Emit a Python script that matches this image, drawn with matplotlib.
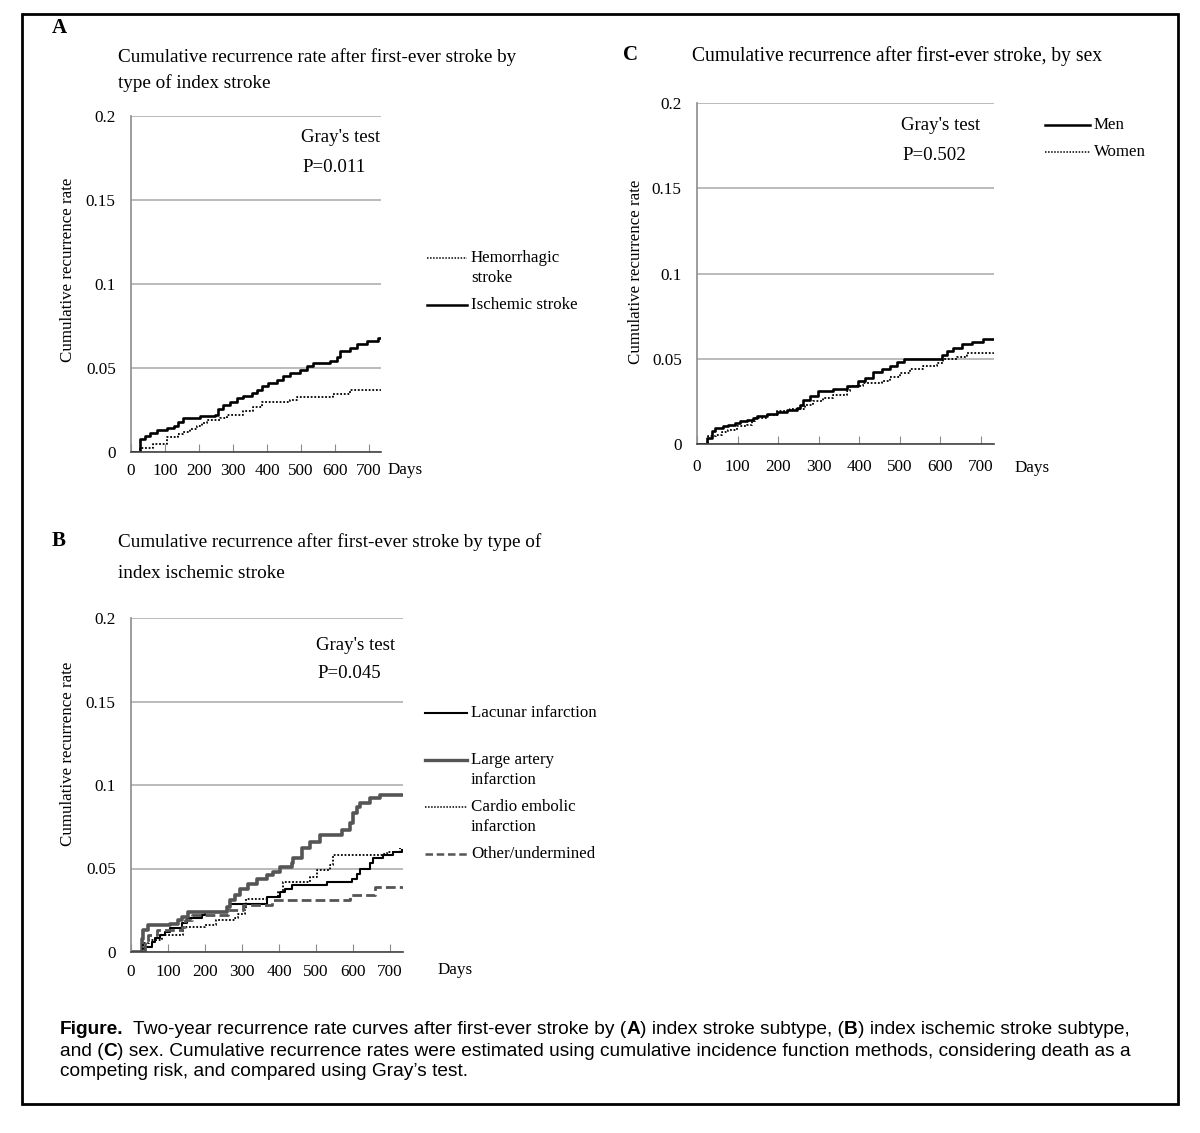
import matplotlib
matplotlib.use('Agg')
import matplotlib.pyplot as plt
from matplotlib.lines import Line2D
from matplotlib.patches import Rectangle

plt.rcParams['font.family'] = ['Liberation Serif', 'DejaVu Serif']

W, H = 1200, 1133

# region - data (days, cumulative recurrence rate)
# A: by type of index stroke
isch_days = [0, 25, 41, 56, 75, 105, 125, 139, 154, 193, 203, 247, 257, 271, 291, 311, 330, 355, 370,
             384, 404, 428, 448, 468, 497, 516, 536, 585, 605, 615, 644, 663, 693, 725, 735]
isch_rate = [0, 0.0075, 0.0095, 0.0115, 0.0128, 0.014, 0.0154, 0.018, 0.020, 0.0204, 0.0217, 0.022,
             0.0253, 0.028, 0.030, 0.032, 0.0336, 0.035, 0.037, 0.039, 0.041, 0.043, 0.045, 0.047,
             0.049, 0.051, 0.053, 0.0543, 0.0563, 0.060, 0.062, 0.064, 0.066, 0.0676, 0.068]
hem_days = [0, 25, 66, 105, 139, 154, 173, 193, 208, 222, 262, 281, 330, 360, 384, 468, 487, 595,
            644, 735]
hem_rate = [0, 0.0026, 0.0045, 0.009, 0.0105, 0.012, 0.0138, 0.0154, 0.0174, 0.0188, 0.020, 0.0223,
            0.0243, 0.0267, 0.0296, 0.031, 0.033, 0.0346, 0.0372, 0.0377]

# B: by type of index ischemic stroke
lac_days = [0, 38, 56, 65, 78, 92, 105, 137, 150, 191, 200, 259, 268, 367, 403, 416, 434, 529, 596,
            610, 619, 646, 655, 682, 709, 731]
lac_rate = [0, 0.0032, 0.0062, 0.0082, 0.0102, 0.0122, 0.0142, 0.0172, 0.0202, 0.022, 0.024, 0.027,
            0.029, 0.033, 0.036, 0.038, 0.040, 0.042, 0.044, 0.047, 0.050, 0.053, 0.056, 0.058,
            0.060, 0.061]
la_days = [0, 29, 33, 45, 105, 128, 137, 155, 259, 268, 281, 295, 317, 340, 367, 385, 403, 434, 439,
           461, 484, 511, 570, 592, 601, 610, 619, 646, 673, 735]
la_rate = [0, 0.008, 0.013, 0.016, 0.017, 0.019, 0.021, 0.024, 0.027, 0.031, 0.034, 0.038, 0.041,
           0.044, 0.046, 0.048, 0.051, 0.053, 0.056, 0.062, 0.066, 0.070, 0.073, 0.077, 0.083,
           0.087, 0.089, 0.092, 0.094, 0.094]
ce_days = [0, 33, 48, 83, 141, 200, 231, 281, 290, 308, 312, 367, 398, 412, 484, 502, 538, 547, 677,
           691, 727]
ce_rate = [0, 0.0052, 0.0072, 0.0102, 0.0152, 0.0162, 0.0192, 0.0202, 0.023, 0.026, 0.032, 0.033,
           0.036, 0.042, 0.045, 0.049, 0.052, 0.058, 0.0588, 0.060, 0.062]
oth_days = [0, 38, 47, 69, 137, 146, 164, 263, 303, 380, 592, 659, 735]
oth_rate = [0, 0.0062, 0.0102, 0.0132, 0.0152, 0.0192, 0.022, 0.025, 0.028, 0.031, 0.034, 0.039,
            0.039]

# C: by sex
men_days = [0, 24, 36, 44, 65, 77, 94, 106, 122, 139, 147, 172, 196, 221, 246, 254, 262, 279, 299,
            336, 369, 398, 414, 435, 455, 476, 492, 509, 603, 615, 632, 652, 677, 706, 732]
men_rate = [0, 0.0035, 0.0075, 0.0094, 0.0104, 0.0114, 0.0124, 0.0133, 0.0143, 0.0151, 0.0163,
            0.0176, 0.019, 0.0202, 0.0212, 0.0231, 0.026, 0.028, 0.031, 0.032, 0.034, 0.037, 0.039,
            0.042, 0.0437, 0.046, 0.048, 0.050, 0.052, 0.0545, 0.0565, 0.0584, 0.0598, 0.0614,
            0.0618]
wom_days = [0, 28, 48, 61, 77, 98, 122, 135, 143, 172, 196, 229, 266, 287, 311, 336, 369, 377, 410,
            455, 476, 500, 525, 558, 591, 607, 640, 665, 732]
wom_rate = [0, 0.0045, 0.0055, 0.0069, 0.0084, 0.0104, 0.0114, 0.0133, 0.0153, 0.0173, 0.0192,
            0.0206, 0.0231, 0.0251, 0.027, 0.029, 0.031, 0.034, 0.036, 0.037, 0.0394, 0.0418,
            0.0437, 0.0457, 0.0476, 0.0496, 0.051, 0.0535, 0.0545]

x_ticks = [0, 100, 200, 300, 400, 500, 600, 700]
y_ticks = [0, 0.05, 0.1, 0.15, 0.2]
y_labels = ['0', '0.05', '0.1', '0.15', '0.2']
# endregion


def fx(x):
    return x / W


def fy(y):
    return 1 - y / H


fig = plt.figure(figsize=(W / 100, H / 100), dpi=100)
fig.patch.set_facecolor('white')


def make_axes(left, right, top, bottom, xmax, xpad):
    ax = fig.add_axes([fx(left), fy(bottom), (right - left) / W, (bottom - top) / H])
    ax.set_xlim(0, xmax)
    ax.set_ylim(0, 0.2)
    for s in ['top', 'right']:
        ax.spines[s].set_visible(False)
    ax.spines['left'].set_color('#8c8c8c')
    ax.spines['left'].set_linewidth(1.2)
    ax.spines['bottom'].set_color('#444444')
    ax.spines['bottom'].set_linewidth(1.2)
    ax.set_yticks(y_ticks)
    ax.set_yticklabels(y_labels)
    ax.set_xticks(x_ticks)
    ax.tick_params(axis='y', length=0, pad=11, labelsize=12.3)
    ax.tick_params(axis='x', direction='in', length=6, color='#8c8c8c', pad=xpad, labelsize=12.3)
    ax.yaxis.grid(True, color='#a8a8a8', linewidth=1.1)
    ax.set_axisbelow(True)
    return ax


# region - A
axA = make_axes(131, 381, 116, 452, 735, 8)
axA.step(hem_days, hem_rate, where='post', color='black', lw=1.3, ls=(0, (1, 1)))
axA.step(isch_days, isch_rate, where='post', color='black', lw=1.9)
# endregion

# region - B
axB = make_axes(131, 403, 618, 952, 735, 9)
axB.step(lac_days, lac_rate, where='post', color='black', lw=1.5)
axB.step(la_days, la_rate, where='post', color='#555555', lw=2.6)
axB.step(ce_days, ce_rate, where='post', color='black', lw=1.3, ls=(0, (1, 1)))
axB.step(oth_days, oth_rate, where='post', color='#555555', lw=2.0, ls=(0, (3.5, 1.5)))
# endregion

# region - C
axC = make_axes(697, 994, 103, 444, 732, 11)
axC.step(wom_days, wom_rate, where='post', color='black', lw=1.3, ls=(0, (1, 1)))
axC.step(men_days, men_rate, where='post', color='black', lw=1.9)
# endregion

ts = 12.2
tt = 13.8
# panel letters and titles
fig.text(fx(59), fy(28), 'A', fontsize=15, fontweight='bold', ha='center', va='center')
fig.text(fx(59), fy(541), 'B', fontsize=15, fontweight='bold', ha='center', va='center')
fig.text(fx(631), fy(55), 'C', fontsize=15, fontweight='bold', ha='center', va='center')
fig.text(fx(118), fy(57), 'Cumulative recurrence rate after first-ever stroke by',
         fontsize=tt, va='center')
fig.text(fx(118), fy(83), 'type of index stroke', fontsize=tt, va='center')
fig.text(fx(118), fy(542), 'Cumulative recurrence after first-ever stroke by type of',
         fontsize=tt, va='center')
fig.text(fx(118), fy(574), 'index ischemic stroke', fontsize=tt, va='center')
fig.text(fx(692), fy(56), 'Cumulative recurrence after first-ever stroke, by sex',
         fontsize=14.1, va='center')

# Gray's test
for gx, gy, p in [(341, 138, 'P=0.011'), (356, 645, 'P=0.045'), (941, 126, 'P=0.502')]:
    fig.text(fx(gx), fy(gy), "Gray's test", fontsize=13.6, ha='center', va='center')
    fig.text(fx(gx - 7), fy(gy + 29), p, fontsize=13.6, ha='center', va='center')

# axis labels
for lx, ly in [(68, 270), (68, 754), (636, 272)]:
    fig.text(fx(lx), fy(ly), 'Cumulative recurrence rate', fontsize=12.2, rotation=90,
             ha='center', va='center')
for dx, dy in [(388, 470), (438, 970), (1015, 468)]:
    fig.text(fx(dx), fy(dy), 'Days', fontsize=12.3, va='center')


# legends
def leg(x0, x1, y, text, **kw):
    fig.add_artist(Line2D([fx(x0), fx(x1)], [fy(y), fy(y)], transform=fig.transFigure, **kw))
    fig.text(fx(x1 + 4), fy(y), text, fontsize=ts, va='center')


dot = dict(color='black', lw=1.1, ls=(0, (1, 1)))
leg(427, 467, 258, 'Hemorrhagic', **dot)
fig.text(fx(471), fy(278), 'stroke', fontsize=ts, va='center')
leg(427, 467, 305, 'Ischemic stroke', color='black', lw=1.8)

leg(425, 467, 713, 'Lacunar infarction', color='black', lw=1.5)
leg(425, 467, 760, 'Large artery', color='#555555', lw=2.4)
fig.text(fx(471), fy(780), 'infarction', fontsize=ts, va='center')
leg(425, 467, 807, 'Cardio embolic', **dot)
fig.text(fx(471), fy(827), 'infarction', fontsize=ts, va='center')
leg(425, 467, 854, 'Other/undermined', color='#555555', lw=1.8, ls=(0, (3, 1.5)))

leg(1045, 1090, 125, 'Men', color='black', lw=1.8)
leg(1045, 1090, 152, 'Women', **dot)

# caption, placed as runs of normal and bold text
cf = ['Liberation Sans', 'DejaVu Sans']
cs = 13.8
renderer = fig.canvas.get_renderer()


def runs(x, y, parts):
    for s, bold in parts:
        t = fig.text(fx(x), fy(y), s, fontsize=cs, family=cf, va='center',
                     fontweight='bold' if bold else 'normal')
        x += t.get_window_extent(renderer).width


runs(60, 1030, [('Figure.', True)])
runs(133, 1030, [('Two-year recurrence rate curves after first-ever stroke by (', False), ('A', True),
                 (') index stroke subtype, (', False), ('B', True),
                 (') index ischemic stroke subtype,', False)])
runs(60, 1051, [('and (', False), ('C', True),
                (') sex. Cumulative recurrence rates were estimated using cumulative incidence '
                 'function methods, considering death as a', False)])
runs(60, 1071, [('competing risk, and compared using Gray\u2019s test.', False)])

fig.add_artist(Rectangle((fx(22), fy(1104)), (1178 - 22) / W, (1104 - 14) / H,
                         transform=fig.transFigure, fill=False, edgecolor='black', lw=2))

fig.savefig('out.png', dpi=100)
